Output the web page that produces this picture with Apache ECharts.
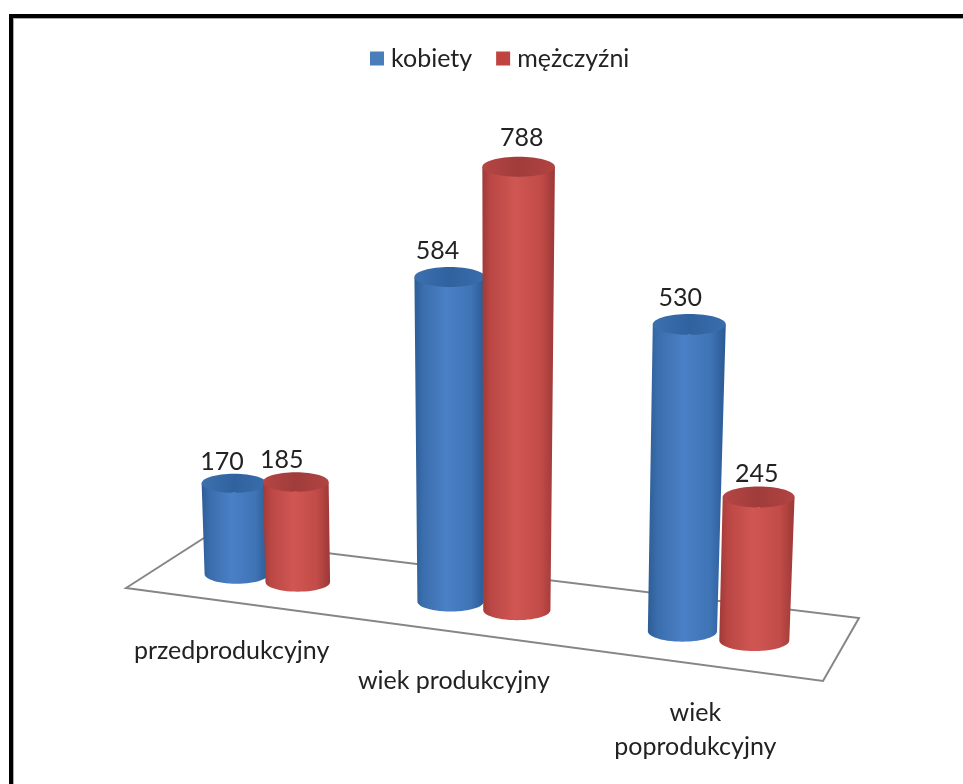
<!DOCTYPE html>
<html>
<head>
<meta charset="utf-8">
<style>
  html, body { margin: 0; padding: 0; background: #fff; }
  #chart { width: 963px; height: 784px; }
</style>
<script src="https://cdn.jsdelivr.net/npm/echarts@6/dist/echarts.min.js"></script>
</head>
<body>
<div id="chart"></div>
<script>
const categories = ['przedprodukcyjny', 'wiek produkcyjny', 'wiek\npoprodukcyjny'];
const kobiety = [170, 584, 530];
const mezczyzni = [185, 788, 245];

// small nudges for the value labels, per column
const kobietyLabelDx = [-12, -12, -9];
const mezczyzniLabelDx = [-14, 3, -2];

const FONT = 'Lato, "Noto Sans", sans-serif';
const TEXT_COLOR = '#222';

// floor plane corners as seen in the picture: front-left, front-right, back-right, back-left
const floor = [[126, 588], [823, 681], [859, 618], [204, 538]];

// homography unit square -> floor
function makeProjection(q) {
    const dx1 = q[1][0] - q[2][0], dx2 = q[3][0] - q[2][0], sx = q[0][0] - q[1][0] + q[2][0] - q[3][0];
    const dy1 = q[1][1] - q[2][1], dy2 = q[3][1] - q[2][1], sy = q[0][1] - q[1][1] + q[2][1] - q[3][1];
    const den = dx1 * dy2 - dx2 * dy1;
    const g = (sx * dy2 - dx2 * sy) / den;
    const h = (dx1 * sy - sx * dy1) / den;
    const a = q[1][0] - q[0][0] + g * q[1][0], b = q[3][0] - q[0][0] + h * q[3][0];
    const d = q[1][1] - q[0][1] + g * q[1][1], e = q[3][1] - q[0][1] + h * q[3][1];
    return function (u, v) {
        const w = g * u + h * v + 1;
        return { x: (a * u + b * v + q[0][0]) / w, y: (d * u + e * v + q[0][1]) / w, w: w };
    };
}
const project = makeProjection(floor);

function ellipsePoints(cx, cy, rx, ry, from, to, n) {
    const pts = [];
    for (let i = 0; i <= n; i++) {
        const t = from + (to - from) * i / n;
        pts.push([cx + rx * Math.cos(t), cy + ry * Math.sin(t)]);
    }
    return pts;
}

function grad(stops) {
    return new echarts.graphic.LinearGradient(0, 0, 1, 0, stops.map((c, i) => ({ offset: c[0], color: c[1] })));
}

const blueStyle = {
    body: [[0, '#2c5d96'], [0.12, '#3a6dac'], [0.45, '#4a80c6'], [0.8, '#3f74b6'], [1, '#2b5a92']],
    top: [[0, '#3c70ae'], [0.5, '#2f629f'], [1, '#3a6dab']]
};
const redStyle = {
    body: [[0, '#9f3a38'], [0.12, '#bb4744'], [0.45, '#cf5653'], [0.8, '#c24c49'], [1, '#9c3836']],
    top: [[0, '#b54644'], [0.5, '#a03c3b'], [1, '#b14442']]
};

function cylinderRenderer(offset, look, labelDx) {
    return function (params, api) {
        const cs = params.coordSys;
        const i = api.value(0);
        const val = api.value(1);
        const band = api.size([1, 0])[0];
        const u = (api.coord([i, 0])[0] + offset * band - cs.x) / cs.width;
        const base = project(u, 0.45);
        const h = api.size([0, val])[1] / base.w;
        const rx = 32.5 / base.w;
        const topX = base.x + (base.x - 480) * h * 1.1e-4;
        const topY = base.y - h;
        const topRx = rx * (1 + h * 1.8e-4);
        const ry = rx * 0.3;

        const body = [].concat(
            ellipsePoints(base.x, base.y, rx, ry, Math.PI, 0, 28),
            ellipsePoints(topX, topY, topRx, ry, 0, Math.PI, 2)
        );
        return {
            type: 'group',
            children: [
                { type: 'polygon', shape: { points: body }, style: { fill: grad(look.body) } },
                { type: 'ellipse', shape: { cx: topX, cy: topY, rx: topRx, ry: ry }, style: { fill: grad(look.top) } },
                {
                    type: 'text',
                    style: {
                        text: String(val), x: topX + labelDx[i], y: topY - 20 - h * 0.02,
                        align: 'center', verticalAlign: 'middle',
                        fontSize: 25, fontFamily: FONT, fill: TEXT_COLOR
                    }
                }
            ]
        };
    };
}

const chart = echarts.init(document.getElementById('chart'));
chart.setOption({
    animation: false,
    backgroundColor: '#fff',
    graphic: [
        { type: 'rect', shape: { x: 9, y: 14, width: 954, height: 4 }, style: { fill: '#000' } },
        { type: 'rect', shape: { x: 9, y: 14, width: 4, height: 770 }, style: { fill: '#000' } },
        { type: 'rect', shape: { x: 13, y: 18, width: 950, height: 1 }, style: { fill: '#aaa' } },
        { type: 'rect', shape: { x: 13, y: 18, width: 1, height: 766 }, style: { fill: '#aaa' } }
    ],
    legend: {
        data: ['kobiety', 'mężczyźni'],
        left: 365, top: 41, padding: 5,
        icon: 'rect', itemWidth: 14, itemHeight: 14, itemGap: 24,
        selectedMode: false,
        textStyle: { fontSize: 25, fontFamily: FONT, color: TEXT_COLOR, padding: [0, 0, 0, 2] }
    },
    // axes are hidden: they only supply the scales, the floor projection is applied on top
    grid: { left: 100, width: 760, top: 47, height: 544 },
    xAxis: { type: 'category', data: categories, show: false },
    yAxis: { type: 'value', min: 0, max: 1000, show: false },
    series: [
        {
            type: 'custom', name: 'floor', silent: true, z: 1,
            data: [[0, 0]],
            renderItem: function () {
                return {
                    type: 'polygon',
                    shape: { points: floor },
                    style: { fill: '#fff', stroke: '#868686', lineWidth: 2 }
                };
            }
        },
        {
            type: 'custom', name: 'labels', silent: true, z: 1,
            data: categories.map((c, i) => [i, 0]),
            renderItem: function (params, api) {
                const cs = params.coordSys;
                const i = api.value(0);
                const p = project((api.coord([i, 0])[0] - cs.x) / cs.width, 0);
                return {
                    type: 'text',
                    style: {
                        text: categories[i], x: p.x + 1, y: p.y + 32,
                        align: 'center', verticalAlign: 'top',
                        fontSize: 25, lineHeight: 34, fontFamily: FONT, fill: TEXT_COLOR
                    }
                };
            }
        },
        {
            type: 'custom', name: 'kobiety', z: 2,
            itemStyle: { color: '#4a7ebb' },
            data: kobiety.map((v, i) => [i, v]),
            encode: { x: 0, y: 1 },
            renderItem: cylinderRenderer(-0.135, blueStyle, kobietyLabelDx)
        },
        {
            type: 'custom', name: 'mężczyźni', z: 3,
            itemStyle: { color: '#c0433f' },
            data: mezczyzni.map((v, i) => [i, v]),
            encode: { x: 0, y: 1 },
            renderItem: cylinderRenderer(0.159, redStyle, mezczyzniLabelDx)
        }
    ]
});
</script>
</body>
</html>
